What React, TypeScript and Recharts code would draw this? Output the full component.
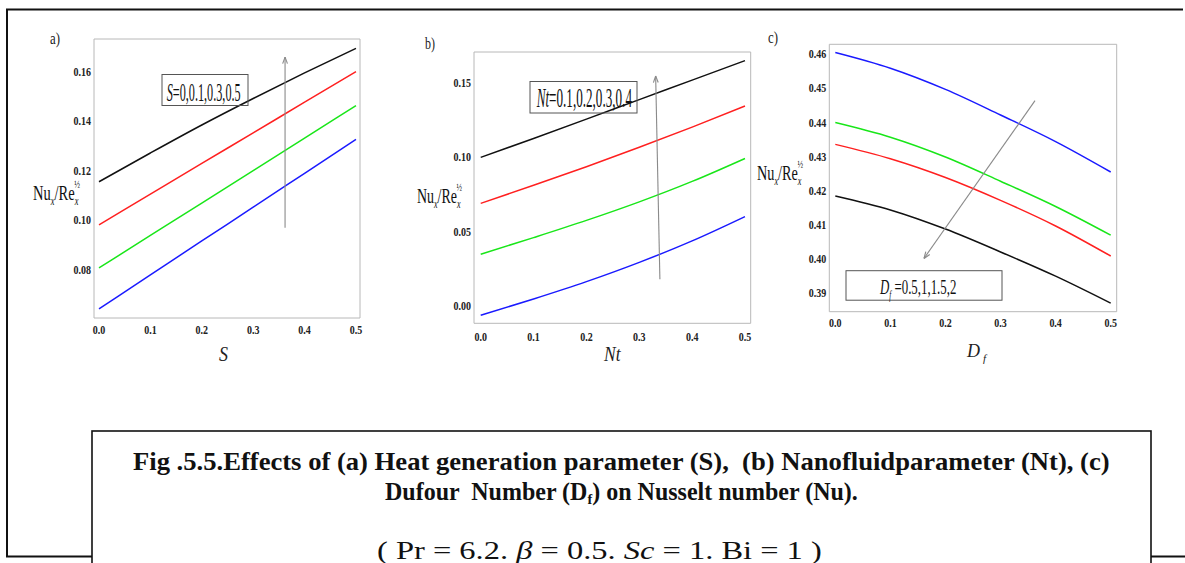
import React, { useLayoutEffect, useRef, useState } from 'react';
import { LineChart, Line, XAxis, YAxis, ReferenceLine } from 'recharts';

// ---------- data ----------
const xValues = [0, 0.1, 0.2, 0.3, 0.4, 0.5];

// (a) S = 0, 0.1, 0.3, 0.5
const aBlue = [0.0643, 0.078, 0.0917, 0.1053, 0.119, 0.1327];
const aGreen = [0.0808, 0.0939, 0.107, 0.1201, 0.1332, 0.1463];
const aRed = [0.0982, 0.1106, 0.123, 0.1353, 0.1477, 0.16];
const aBlack = [0.1156, 0.1272, 0.1385, 0.1492, 0.1595, 0.1694];

// (b) Nt = 0.1, 0.2, 0.3, 0.4
const bBlue = [-0.0065, 0.0045, 0.0162, 0.0292, 0.0437, 0.0601];
const bGreen = [0.0347, 0.0459, 0.0575, 0.07, 0.0838, 0.0993];
const bRed = [0.069, 0.0812, 0.0937, 0.1068, 0.1204, 0.1347];
const bBlack = [0.1, 0.1128, 0.1258, 0.139, 0.1521, 0.1653];

// (c) Df = 0.5, 1, 1.5, 2
const cBlue = [0.4605, 0.4559, 0.4497, 0.4422, 0.4344, 0.4255];
const cGreen = [0.44, 0.4357, 0.4299, 0.4228, 0.4154, 0.407];
const cRed = [0.4336, 0.4294, 0.4239, 0.4172, 0.4097, 0.4009];
const cBlack = [0.4185, 0.4144, 0.4088, 0.4021, 0.395, 0.3871];

// ticks
const xTicks = [0, 0.1, 0.2, 0.3, 0.4, 0.5];
const aYTicks = [0.08, 0.1, 0.12, 0.14, 0.16];
const bYTicks = [0, 0.05, 0.1, 0.15];
const cYTicks = [0.39, 0.4, 0.41, 0.42, 0.43, 0.44, 0.45, 0.46];

const COLORS = { blue: '#1a1aff', green: '#19e619', red: '#ff2020', black: '#111111' };
const SERIF = "'Liberation Serif', 'Times New Roman', serif";

function rows(blue: number[], green: number[], red: number[], black: number[]) {
  return xValues.map((x, i) => ({ x, blue: blue[i], green: green[i], red: red[i], black: black[i] }));
}

function minorTicks(from: number, to: number, step: number) {
  const out: number[] = [];
  const n = Math.round((to - from) / step);
  for (let i = 0; i <= n; i++) out.push(+(from + i * step).toFixed(5));
  return out;
}

// ---------- helpers ----------
function FitText(props: any) {
  const { x, y, width, children, style, ...rest } = props;
  const ref = useRef<SVGTextElement>(null);
  const [sx, setSx] = useState(1);
  useLayoutEffect(() => {
    if (ref.current) {
      const w = ref.current.getBBox().width;
      if (w > 0) setSx(width / w);
    }
  }, [width]);
  return (
    <text ref={ref} transform={`translate(${x},${y}) scale(${sx},1)`} x={0} y={0}
      style={{ whiteSpace: 'pre', fontFamily: SERIF, ...(style || {}) }} {...rest}>
      {children}
    </text>
  );
}

const arrowShape = (props: any) => {
  const { x1, y1, x2, y2 } = props;
  const ang = Math.atan2(y2 - y1, x2 - x1);
  const L = 7;
  const a1 = ang + Math.PI - 0.35;
  const a2 = ang + Math.PI + 0.35;
  return (
    <g>
      <line x1={x1} y1={y1} x2={x2} y2={y2} stroke="#8a8a8a" strokeWidth={1.1} />
      <line x1={x2} y1={y2} x2={x2 + L * Math.cos(a1)} y2={y2 + L * Math.sin(a1)} stroke="#8a8a8a" strokeWidth={1.1} />
      <line x1={x2} y1={y2} x2={x2 + L * Math.cos(a2)} y2={y2 + L * Math.sin(a2)} stroke="#8a8a8a" strokeWidth={1.1} />
    </g>
  );
};

// condensed bold tick labels
const makeTick = (digits: number, axis: 'x' | 'y') => (props: any) => {
  const { x, y, payload } = props;
  const label = Number(payload.value).toFixed(digits);
  return (
    <g transform={`translate(${x},${y})`}>
      <text transform="scale(0.8,1)" textAnchor={axis === 'x' ? 'middle' : 'end'} dy={axis === 'x' ? 9 : 4}
        style={{ fontFamily: SERIF, fontWeight: 'bold', fontSize: 12.5 }} fill="#222">
        {label}
      </text>
    </g>
  );
};

const FRAME = '#b8b8b8';
const TICK = '#9a9a9a';

function renderPanel(cfg: any) {
  const { left, top, width, height, margin, xDomain, yDomain, yTicks, yMinor, yDigits, xTickMargin, data, arrow } = cfg;
  const xMinor = minorTicks(0, 0.5, 0.02);
  return (
    <div style={{ position: 'absolute', left, top, width, height }}>
      <LineChart width={width} height={height} data={data} margin={margin}>
        <XAxis xAxisId="x" dataKey="x" type="number" domain={xDomain} allowDataOverflow ticks={xTicks} interval={0}
          height={30} tickSize={0} tickMargin={xTickMargin}
          axisLine={{ stroke: FRAME }} tickLine={false} tick={makeTick(1, 'x')} />
        <XAxis xAxisId="xm" dataKey="x" type="number" mirror domain={xDomain} allowDataOverflow ticks={xTicks} interval={0}
          tick={false} axisLine={false} tickSize={4} tickLine={{ stroke: TICK }} />
        <XAxis xAxisId="xmm" dataKey="x" type="number" mirror domain={xDomain} allowDataOverflow ticks={xMinor} interval={0}
          tick={false} axisLine={false} tickSize={2} tickLine={{ stroke: TICK }} />
        <XAxis xAxisId="xt" dataKey="x" type="number" orientation="top" mirror domain={xDomain} allowDataOverflow ticks={xTicks} interval={0}
          tick={false} axisLine={{ stroke: FRAME }} tickSize={4} tickLine={{ stroke: TICK }} />
        <XAxis xAxisId="xtm" dataKey="x" type="number" orientation="top" mirror domain={xDomain} allowDataOverflow ticks={xMinor} interval={0}
          tick={false} axisLine={false} tickSize={2} tickLine={{ stroke: TICK }} />
        <YAxis yAxisId="y" type="number" domain={yDomain} allowDataOverflow ticks={yTicks} interval={0}
          width={40} tickSize={0} tickMargin={3}
          axisLine={{ stroke: FRAME }} tickLine={false} tick={makeTick(yDigits, 'y')} />
        <YAxis yAxisId="ym" type="number" mirror domain={yDomain} allowDataOverflow ticks={yTicks} interval={0}
          tick={false} axisLine={false} tickSize={4} tickLine={{ stroke: TICK }} />
        <YAxis yAxisId="ymm" type="number" mirror domain={yDomain} allowDataOverflow ticks={yMinor} interval={0}
          tick={false} axisLine={false} tickSize={2} tickLine={{ stroke: TICK }} />
        <YAxis yAxisId="yr" type="number" orientation="right" mirror domain={yDomain} allowDataOverflow ticks={yTicks} interval={0}
          tick={false} axisLine={{ stroke: FRAME }} tickSize={4} tickLine={{ stroke: TICK }} />
        <YAxis yAxisId="yrm" type="number" orientation="right" mirror domain={yDomain} allowDataOverflow ticks={yMinor} interval={0}
          tick={false} axisLine={false} tickSize={2} tickLine={{ stroke: TICK }} />
        {(['blue', 'green', 'red', 'black'] as const).map((k) => (
          <Line key={k} xAxisId="x" yAxisId="y" type="monotone" dataKey={k} stroke={COLORS[k]} strokeWidth={1.5}
            dot={false} activeDot={false} isAnimationActive={false} />
        ))}
        <ReferenceLine xAxisId="x" yAxisId="y" segment={arrow} shape={arrowShape} ifOverflow="visible" />
      </LineChart>
    </div>
  );
}

function NuLabel({ x, y, width }: any) {
  return (
    <FitText x={x} y={y} width={width} fontSize={21} fill="#111">
      <tspan>Nu</tspan>
      <tspan fontSize={12} fontStyle="italic" dy={5}>x</tspan>
      <tspan dy={-5}>/Re</tspan>
      <tspan fontSize={12} fontStyle="italic" dy={5}>x</tspan>
      <tspan fontSize={11} dx={-6} dy={-17}>½</tspan>
    </FitText>
  );
}

function Txt(props: any) {
  const { style, children, ...rest } = props;
  return <text style={{ fontFamily: SERIF, ...(style || {}) }} {...rest}>{children}</text>;
}

export default function App() {
  const panelA = {
    left: 0, top: 0, width: 400, height: 380,
    margin: { top: 39, right: 40, bottom: 32, left: 54 },
    xDomain: [-0.0097, 0.5078], yDomain: [0.0606, 0.1732],
    yTicks: aYTicks, yMinor: minorTicks(0.065, 0.17, 0.005), yDigits: 2, xTickMargin: 7,
    data: rows(aBlue, aGreen, aRed, aBlack),
    arrow: [{ x: 0.362, y: 0.097 }, { x: 0.362, y: 0.1659 }],
  };
  const panelB = {
    left: 400, top: 0, width: 380, height: 380,
    margin: { top: 52, right: 29.3, bottom: 26.7, left: 34 },
    xDomain: [-0.0127, 0.5108], yDomain: [-0.0119, 0.1711],
    yTicks: bYTicks, yMinor: minorTicks(-0.01, 0.17, 0.01), yDigits: 2, xTickMargin: 8.5,
    data: rows(bBlue, bGreen, bRed, bBlack),
    arrow: [{ x: 0.339, y: 0.0178 }, { x: 0.331, y: 0.1549 }],
  };
  const panelC = {
    left: 780, top: 0, width: 405, height: 380,
    margin: { top: 44.3, right: 68.3, bottom: 38.3, left: 9.3 },
    xDomain: [-0.0109, 0.5109], yDomain: [0.3846, 0.4629],
    yTicks: cYTicks, yMinor: minorTicks(0.386, 0.462, 0.002), yDigits: 2, xTickMargin: 6.5,
    data: rows(cBlue, cGreen, cRed, cBlack),
    arrow: [{ x: 0.3626, y: 0.4464 }, { x: 0.161, y: 0.4002 }],
  };

  return (
    <div style={{ position: 'absolute', left: 0, top: 0, width: 1185, height: 563, background: '#fff', overflow: 'hidden' }}>
      {renderPanel(panelA)}
      {renderPanel(panelB)}
      {renderPanel(panelC)}
      <svg width={1185} height={563} style={{ position: 'absolute', left: 0, top: 0, pointerEvents: 'none' }}>
        {/* outer frame */}
        <line x1={7} y1={9} x2={7} y2={557} stroke="#111" strokeWidth={2} />
        <line x1={6} y1={9.5} x2={1183} y2={9.5} stroke="#111" strokeWidth={2} />
        <line x1={6} y1={556.5} x2={1185} y2={556.5} stroke="#111" strokeWidth={2} />

        {/* panel letters */}
        <FitText x={50} y={44} width={10} fontSize={17} fill="#222">a)</FitText>
        <FitText x={425} y={49} width={10} fontSize={17} fill="#222">b)</FitText>
        <FitText x={768} y={43} width={10} fontSize={17} fill="#222">c)</FitText>

        {/* y labels */}
        <NuLabel x={33} y={200} width={47} />
        <NuLabel x={417} y={203} width={45} />
        <NuLabel x={757} y={180} width={46} />

        {/* x labels */}
        <FitText x={219} y={361} width={9} fontStyle="italic" fontSize={22} fill="#222">S</FitText>
        <FitText x={604} y={361} width={18} fontStyle="italic" fontSize={22} fill="#222">Nt</FitText>
        <Txt x={967} y={357} fontStyle="italic" fontSize={18} fill="#222">
          D<tspan fontSize={11} dx={3} dy={5}>f</tspan>
        </Txt>

        {/* legend boxes */}
        <rect x={162} y={74.5} width={86} height={31} fill="none" stroke="#555" strokeWidth={1} />
        <FitText x={166.7} y={101} width={74} fontSize={26} fill="#111">
          <tspan fontStyle="italic">S</tspan>=0,0.1,0.3,0.5
        </FitText>
        <rect x={530} y={81.5} width={107} height={31.5} fill="none" stroke="#555" strokeWidth={1} />
        <FitText x={536.7} y={107} width={96} fontSize={27} fill="#111">
          <tspan fontStyle="italic">Nt</tspan>=0.1,0.2,0.3,0.4
        </FitText>
        <rect x={846} y={270.7} width={156} height={29.5} fill="none" stroke="#555" strokeWidth={1} />
        <FitText x={880} y={294} width={77} fontSize={22} fill="#111">
          <tspan fontStyle="italic">D</tspan><tspan fontStyle="italic" fontSize={12} dy={5}>f</tspan><tspan dy={-5}> =0.5,1,1.5,2</tspan>
        </FitText>

        {/* caption box */}
        <rect x={92} y={431} width={1059} height={200} fill="#fff" stroke="#111" strokeWidth={1.6} />
        <FitText x={133} y={470} width={977} fontWeight="bold" fontSize={25} fill="#111">
          Fig .5.5.Effects of (a) Heat generation parameter (S),  (b) Nanofluidparameter (Nt), (c)
        </FitText>
        <FitText x={385} y={500} width={473} fontWeight="bold" fontSize={25} fill="#111">
          <tspan>Dufour  Number (D</tspan><tspan fontSize={15} dy={4}>f</tspan><tspan dy={-4}>) on Nusselt number (Nu).</tspan>
        </FitText>
        <FitText x={377} y={559} width={445} fontSize={26} fill="#111">
          <tspan>( Pr = 6.2. </tspan><tspan fontStyle="italic">β</tspan><tspan> = 0.5. </tspan><tspan fontStyle="italic">Sc</tspan><tspan> = 1. Bi = 1 )</tspan>
        </FitText>
      </svg>
    </div>
  );
}
